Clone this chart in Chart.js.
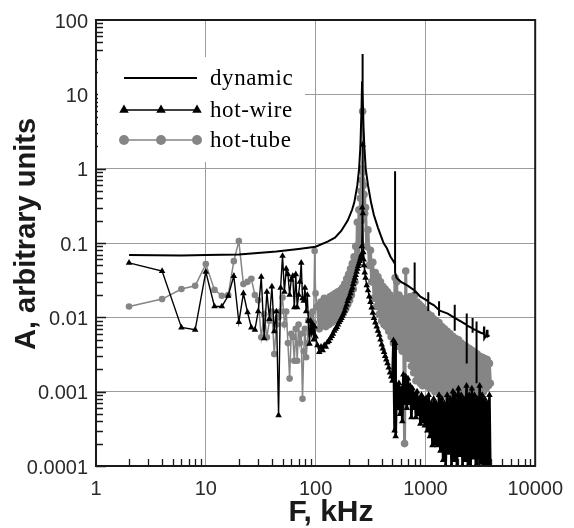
<!DOCTYPE html>
<html>
<head>
<meta charset="utf-8">
<title>A vs F</title>
<script src="https://cdn.jsdelivr.net/npm/chart.js@4.4.1/dist/chart.umd.min.js"></script>
<style>
  html, body { margin: 0; padding: 0; background: #fff; }
  #wrap { width: 574px; height: 528px; }
</style>
</head>
<body>
<div id="wrap"><canvas id="spectrum" width="574" height="528"></canvas></div>
<script>
// dynamic sensor spectrum, F in kHz
const dynFreq = [
  2, 6, 10, 20, 44, 70, 100, 130, 150, 171, 196, 215, 225, 240, 249, 256, 262, 265, 267, 269,
  272, 278, 286, 300, 320, 339, 370, 416, 446, 480, 511, 529, 529, 530, 547, 600, 695, 780,
  797, 797, 798, 800, 900, 1048, 1061, 1061, 1062, 1064, 1200, 1331, 1331, 1332, 1333, 1600,
  1811, 1849, 1849, 1850, 1851, 2100, 2378, 2378, 2379, 2380, 2690, 2690, 2691, 2692,
  2923, 2923, 2924, 2925, 3200, 3400, 3420, 3440, 3600, 3650, 3680, 3840
];
const dynAmp = [
  0.069, 0.068, 0.069, 0.070, 0.0766, 0.083, 0.089, 0.105, 0.118, 0.145, 0.2, 0.28, 0.35, 0.6, 1.0, 2.0, 6.5, 15, 35, 12,
  4, 2, 1.0, 0.6, 0.35, 0.24, 0.16, 0.1, 0.085, 0.066, 0.057, 0.052, 0.92, 0.04, 0.034, 0.030, 0.0265, 0.0235,
  0.0235, 0.0545, 0.021, 0.023, 0.019, 0.0167, 0.0163, 0.0218, 0.0122, 0.016, 0.0145, 0.0125, 0.0165, 0.0105, 0.0124, 0.0112,
  0.0100, 0.0098, 0.0148, 0.0066, 0.0098, 0.0088, 0.0079, 0.0113, 0.0024, 0.0078, 0.0071, 0.0098, 0.0062, 0.007,
  0.0067, 0.0088, 0.0013, 0.0066, 0.0062, 0.0060, 0.0075, 0.0052, 0.0058, 0.0068, 0.0055, 0.0057
];

// hot-wire and hot-tube share the same frequency points, kHz
const freq = [
  2, 4, 6, 8, 10, 12, 14, 16, 18, 20, 22, 24, 26, 28, 30, 32, 34, 36, 38, 40,
  42, 44, 46, 48, 50, 52, 54, 56, 58, 60, 62, 64, 66, 68, 70, 72, 74, 76, 78, 80,
  82, 84, 86, 88, 90, 92, 94, 96, 98, 100,
  104, 108, 112, 116, 120, 124, 128, 132, 136, 140, 144, 148, 152, 156, 160, 164, 168, 172, 176, 180,
  184, 188, 192, 196, 200, 204, 208, 212, 216, 220, 224, 228, 232, 236, 240, 244, 248, 252, 256,
  260, 262, 264, 266, 268, 270, 272, 274, 276, 280,
  285, 292, 300, 308, 316, 324, 332, 340, 350, 360, 370, 380, 390, 400, 410, 420, 430, 440, 452, 464, 476, 488, 500,
  512, 524, 530, 536, 548, 560, 574, 588, 602, 616, 630, 646, 662, 678, 694, 710, 728, 746, 764, 782,
  800, 820, 840, 860, 880, 900, 922, 944, 966, 988,
  1010, 1040, 1070, 1100, 1130, 1160, 1190, 1220, 1250, 1290, 1330, 1370, 1410, 1450, 1490, 1530, 1580, 1630, 1680, 1730,
  1780, 1830, 1880, 1940, 2000, 2060, 2120, 2180, 2240, 2300, 2370, 2440, 2510, 2580, 2650, 2720, 2800, 2880, 2960, 3040,
  3120, 3200, 3290, 3380, 3470, 3560, 3650, 3740, 3830, 3900
];
const wireAmp = [
  0.054, 0.042, 0.0073, 0.0068, 0.041, 0.014, 0.014, 0.0195, 0.036, 0.0086,
  0.021, 0.0117, 0.0073, 0.0068, 0.012, 0.035, 0.0052, 0.022, 0.0095, 0.026,
  0.0065, 0.012, 0.00048, 0.025, 0.067, 0.022, 0.045, 0.038, 0.02, 0.032,
  0.036, 0.0136, 0.038, 0.0136, 0.02, 0.03, 0.054, 0.018, 0.0167, 0.025,
  0.012, 0.02, 0.009, 0.0044, 0.009, 0.0062, 0.0081, 0.005, 0.0075, 0.0055,
  0.0042, 0.0034, 0.004, 0.0036, 0.0042, 0.004, 0.0046, 0.0048, 0.0052, 0.0056,
  0.006, 0.0066, 0.007, 0.0074, 0.008, 0.0086, 0.0092, 0.0098, 0.0105, 0.0112,
  0.0122, 0.0135, 0.0148, 0.0165, 0.018, 0.019, 0.021, 0.023, 0.025, 0.028,
  0.031, 0.034, 0.037, 0.041, 0.045, 0.049, 0.053, 0.057, 0.062,
  0.066, 0.07, 0.09, 0.3, 2.1, 0.25, 0.075, 0.06, 0.05, 0.04,
  0.034, 0.027, 0.023, 0.019, 0.016, 0.0135, 0.0115, 0.0098, 0.0085, 0.0075,
  0.0066, 0.0058, 0.005, 0.0043, 0.0038, 0.0034, 0.003, 0.0027, 0.0024, 0.0021, 0.0018, 0.0016, 0.0014,
  0.0049, 0.0003, 0.0045, 0.00025, 0.0012, 0.0006, 0.0013, 0.0005, 0.0011, 0.0004,
  0.0017, 0.0007, 0.0016, 0.0006, 0.0015, 0.0007, 0.0012, 0.00045, 0.0011, 0.0006,
  0.0009, 0.00045, 0.001, 0.0005, 0.0008, 0.00037, 0.0009, 0.0004, 0.0008, 0.00035,
  0.0008, 0.0003, 0.0009, 0.00025, 0.0007, 0.00019, 0.0008, 0.0002, 0.0007, 0.00019,
  0.0009, 0.00016, 0.0008, 0.00012, 0.0007, 0.0001, 0.0009, 0.00015, 0.0008, 0.0001,
  0.001, 0.00012, 0.0009, 0.0001, 0.0011, 0.00014, 0.0009, 0.0001, 0.0008, 0.00012,
  0.0012, 0.0001, 0.0009, 0.0001, 0.0011, 0.00013, 0.0009, 0.0001, 0.0008, 0.0001,
  0.0012, 0.00011, 0.0009, 0.0001, 0.0008, 0.0001, 0.0007, 0.0001, 0.0009, 0.0001
];
const tubeAmp = [
  0.014, 0.0176, 0.024, 0.0266, 0.052, 0.0234, 0.0195, 0.02, 0.057, 0.106,
  0.028, 0.03, 0.033, 0.02, 0.017, 0.0054, 0.011, 0.0054, 0.009, 0.012,
  0.0032, 0.008, 0.01, 0.012, 0.0185, 0.008, 0.012, 0.0045, 0.0015, 0.006,
  0.0054, 0.0026, 0.007, 0.0026, 0.008, 0.0045, 0.006, 0.0008, 0.0035, 0.007,
  0.0029, 0.0045, 0.009, 0.006, 0.011, 0.007, 0.012, 0.0085, 0.078, 0.021,
  0.014, 0.007, 0.016, 0.008, 0.018, 0.0075, 0.017, 0.008, 0.019, 0.0085,
  0.02, 0.009, 0.021, 0.0095, 0.022, 0.01, 0.023, 0.011, 0.025, 0.012,
  0.028, 0.013, 0.033, 0.015, 0.038, 0.017, 0.045, 0.02, 0.053, 0.024,
  0.065, 0.03, 0.09, 0.05, 0.19, 0.07, 0.28, 0.1, 0.4,
  0.5, 0.2, 0.7, 1.0, 5.9, 0.9, 0.6, 0.3, 0.45, 0.25,
  0.3, 0.09, 0.15, 0.05, 0.08, 0.03, 0.055, 0.018, 0.04, 0.014,
  0.035, 0.011, 0.03, 0.009, 0.026, 0.008, 0.024, 0.0075, 0.022, 0.0065, 0.02, 0.0055, 0.0185,
  0.0045, 0.016, 0.034, 0.005, 0.03, 0.0045, 0.02, 0.004, 0.018, 0.0035,
  0.017, 0.0002, 0.042, 0.003, 0.016, 0.0028, 0.019, 0.0022, 0.018, 0.0018,
  0.02, 0.0014, 0.016, 0.0016, 0.015, 0.0013, 0.014, 0.0012, 0.013, 0.0013,
  0.012, 0.0012, 0.011, 0.0011, 0.0105, 0.0012, 0.0095, 0.001, 0.009, 0.0011,
  0.0085, 0.0009, 0.0075, 0.001, 0.007, 0.0009, 0.0065, 0.0008, 0.006, 0.0009,
  0.0055, 0.0008, 0.0052, 0.0008, 0.005, 0.0009, 0.0045, 0.0008, 0.0042, 0.0009,
  0.004, 0.0009, 0.0038, 0.001, 0.0036, 0.0009, 0.0034, 0.001, 0.0032, 0.0009,
  0.003, 0.001, 0.0029, 0.001, 0.0028, 0.0011, 0.0027, 0.0012, 0.0024, 0.0013
];

const xTickLabels = ['1', '10', '100', '1000', '10000'];
const yTickLabels = ['0.0001', '0.001', '0.01', '0.1', '1', '10', '100'];
const seriesNames = ['dynamic', 'hot-wire', 'hot-tube'];

const GRAY = '#858585';
const INK = '#1a1a1a';
const tickFont = { family: '"Liberation Sans", Arial, sans-serif', size: 20 };

const toPoints = (xs, ys) => xs.map((x, i) => ({ x: x, y: ys[i] }));
const isDecade = (v) => Math.abs(Math.log10(v) - Math.round(Math.log10(v))) < 1e-6;
const decadeLabel = (v, labels, minExp) => isDecade(v) ? labels[Math.round(Math.log10(v)) - minExp] : '';
const gridColor = (c) => (c.tick && isDecade(c.tick.value)) ? '#9c9c9c' : 'rgba(0,0,0,0)';

// frame, inward ticks, legend and axis titles
const decorPlugin = {
  id: 'decor',
  afterDraw(chart) {
    const { ctx, chartArea: a, scales: { x, y } } = chart;
    ctx.save();

    ctx.strokeStyle = INK;
    ctx.lineWidth = 1.3;
    ctx.beginPath();
    for (let e = -4; e < 2; e++) {
      for (let k = 1; k < 10; k++) {
        const py = Math.round(y.getPixelForValue(k * Math.pow(10, e))) + 0.5;
        const len = k === 1 ? 10 : 7;
        ctx.moveTo(a.left, py);
        ctx.lineTo(a.left + len, py);
      }
    }
    for (let e = 0; e < 4; e++) {
      for (let k = 2; k < 10; k++) {
        const px = Math.round(x.getPixelForValue(k * Math.pow(10, e))) + 0.5;
        ctx.moveTo(px, a.bottom);
        ctx.lineTo(px, a.bottom - 7);
      }
    }
    ctx.stroke();

    ctx.lineWidth = 2;
    ctx.strokeRect(a.left, a.top, a.right - a.left, a.bottom - a.top);

    // legend box
    const lx = a.left + 2, ly = a.top + 37;
    ctx.fillStyle = '#fff';
    ctx.fillRect(lx, ly, 207, 105);

    const rows = [ly + 21, ly + 53, ly + 83];
    const mx = [a.left + 28, a.left + 65, a.left + 101];
    ctx.lineWidth = 2;
    ctx.strokeStyle = '#000';
    ctx.beginPath();
    ctx.moveTo(mx[0], rows[0]); ctx.lineTo(mx[2], rows[0]);
    ctx.stroke();

    ctx.lineWidth = 1.5;
    ctx.beginPath();
    ctx.moveTo(mx[0], rows[1]); ctx.lineTo(mx[2], rows[1]);
    ctx.stroke();
    ctx.fillStyle = '#000';
    mx.forEach((px) => Chart.helpers.drawPoint(ctx, { pointStyle: 'triangle', radius: 5.5, borderWidth: 0 }, px, rows[1]));

    ctx.strokeStyle = GRAY;
    ctx.fillStyle = GRAY;
    ctx.beginPath();
    ctx.moveTo(mx[0], rows[2]); ctx.lineTo(mx[2], rows[2]);
    ctx.stroke();
    mx.forEach((px) => Chart.helpers.drawPoint(ctx, { pointStyle: 'circle', radius: 5, borderWidth: 0 }, px, rows[2]));

    ctx.fillStyle = '#000';
    ctx.font = '23px "Liberation Serif", "Times New Roman", serif';
    ctx.textAlign = 'left';
    ctx.textBaseline = 'alphabetic';
    if ('letterSpacing' in ctx) ctx.letterSpacing = '0.6px';
    seriesNames.forEach((name, i) => ctx.fillText(name, a.left + 114, rows[i] + 7));
    if ('letterSpacing' in ctx) ctx.letterSpacing = '0px';

    // axis titles
    ctx.fillStyle = INK;
    ctx.font = 'bold 30px "Liberation Sans", Arial, sans-serif';
    ctx.textAlign = 'center';
    ctx.fillText('F, kHz', 331, 521);
    ctx.translate(35, 234);
    ctx.rotate(-Math.PI / 2);
    ctx.font = 'bold 29px "Liberation Sans", Arial, sans-serif';
    ctx.fillText('A, arbitrary units', 0, 0);
    ctx.restore();
  }
};

// above ~100 kHz the samples are so close that the traces merge into a band
const bandWidth = (from, thin, thick) => (c) => c.p0.parsed.x >= from ? thick : thin;

new Chart(document.getElementById('spectrum'), {
  type: 'scatter',
  data: {
    datasets: [{
      label: seriesNames[0],
      data: toPoints(dynFreq, dynAmp),
      showLine: true,
      borderColor: '#000',
      borderWidth: 2,
      pointRadius: 0,
      order: 0
    }, {
      label: seriesNames[1],
      data: toPoints(freq, wireAmp),
      showLine: true,
      borderColor: '#000',
      borderWidth: 1.4,
      segment: { borderWidth: bandWidth(500, 1.4, 2.6) },
      backgroundColor: '#000',
      pointStyle: 'triangle',
      pointRadius: 3.8,
      pointBorderWidth: 0,
      order: 1
    }, {
      label: seriesNames[2],
      data: toPoints(freq, tubeAmp),
      showLine: true,
      borderColor: GRAY,
      borderWidth: 1.5,
      segment: { borderWidth: bandWidth(102, 1.5, 3) },
      backgroundColor: GRAY,
      pointStyle: 'circle',
      pointRadius: (c) => (c.parsed && c.parsed.x > 100) ? 3.8 : 3.3,
      pointBorderWidth: 0,
      order: 2
    }]
  },
  options: {
    responsive: false,
    animation: false,
    devicePixelRatio: 1,
    events: [],
    layout: { padding: { top: 18, right: 29, left: 0, bottom: 0 } },
    plugins: {
      legend: { display: false },
      tooltip: { enabled: false }
    },
    scales: {
      x: {
        type: 'logarithmic',
        min: 1,
        max: 10000,
        afterFit: (s) => { s.height = 62; },
        border: { display: false },
        grid: { color: gridColor, drawTicks: false },
        ticks: {
          autoSkip: false, maxRotation: 0, minRotation: 0, padding: 11,
          color: '#2a2a2a', font: tickFont,
          callback: (v) => decadeLabel(v, xTickLabels, 0)
        }
      },
      y: {
        type: 'logarithmic',
        min: 0.0001,
        max: 100,
        afterFit: (s) => { s.width = 96; },
        border: { display: false },
        grid: { color: gridColor, drawTicks: false },
        ticks: {
          autoSkip: false, padding: 8, labelOffset: 2,
          color: '#2a2a2a', font: tickFont,
          callback: (v) => decadeLabel(v, yTickLabels, -4)
        }
      }
    }
  },
  plugins: [decorPlugin]
});
</script>
</body>
</html>
